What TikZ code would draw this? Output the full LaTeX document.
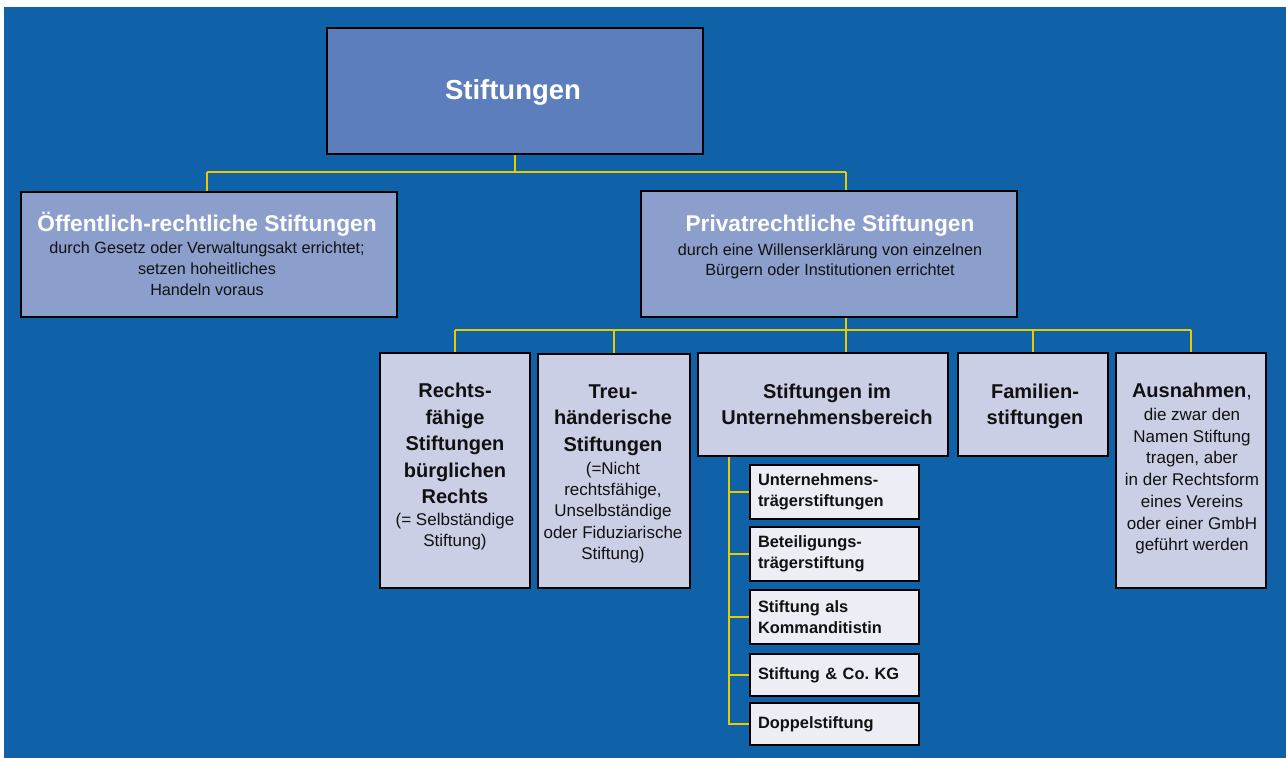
\documentclass[tikz,border=0pt]{standalone}
\usepackage{fontspec}
\setmainfont{Liberation Sans}
\definecolor{bg}{RGB}{15,98,168}
\definecolor{lvA}{RGB}{92,126,188}
\definecolor{lvB}{RGB}{140,159,204}
\definecolor{lvC}{RGB}{203,207,230}
\definecolor{lvD}{RGB}{237,237,246}
\definecolor{connc}{RGB}{232,204,0}
\definecolor{ink}{RGB}{17,17,17}
\newcommand\fsz[2]{\fontsize{#1}{#2}\selectfont}
\newcommand\mybox[6]{\node[box, fill=#2, minimum width=#5pt, minimum height=#6pt] (#1) at (#3,#4) {};}
\begin{document}
\begin{tikzpicture}[x=1pt,y=-1pt,
  box/.style={draw=black, line width=1.5pt, inner sep=0pt, outer sep=0pt, anchor=north west},
  sub/.style={draw=black, line width=1.5pt, fill=lvD, text width=153pt, inner xsep=8pt, inner ysep=0pt, outer sep=0pt, align=left, font=\fsz{16.4}{21}\bfseries, text=ink},
  txt/.style={inner sep=0pt, align=center, text=ink},
  cn/.style={draw=connc, line width=2pt}]
\fill[white] (0,0) rectangle (1286,758);
\fill[bg] (4,7) rectangle (1286,758);
\useasboundingbox (0,0) rectangle (1286,758);

% junction points
\coordinate (j1) at (515,172);
\coordinate (j2) at (846,330);
\coordinate (j3) at (729,456);

% boxes
\mybox{top}{lvA}{327}{28}{376}{126}
\mybox{oeff}{lvB}{21}{192}{376}{125}
\mybox{priv}{lvB}{641}{191}{376}{126}
\mybox{rf}{lvC}{380}{353}{150}{235}
\mybox{th}{lvC}{538}{354}{152}{234}
\mybox{ub}{lvC}{698}{353}{250}{103}
\mybox{fam}{lvC}{958}{353}{150}{103}
\mybox{aus}{lvC}{1116}{353}{150}{235}

% sub boxes
\node[sub, minimum height=54pt] (s1) at (834.5,492) {Unternehmens-\\trägerstiftungen};
\node[sub, minimum height=54pt] (s2) at (834.5,554) {Beteiligungs-\\trägerstiftung};
\node[sub, minimum height=54pt] (s3) at (834.5,617) {Stiftung als\\Kommanditistin};
\node[sub, minimum height=42pt] (s4) at (834.5,675) {Stiftung \& Co.\ KG};
\node[sub, minimum height=42pt] (s5) at (834.5,724) {Doppelstiftung};

% connectors
\draw[cn] (top.south -| j1) -- (j1);
\draw[cn] (j1 -| 207,0) -- (j1 -| priv.north) -- (j1 -| 846,0);
\draw[cn] (j1 -| 207,0) -- (oeff.north -| 207,0);
\draw[cn] (j1 -| 846,0) -- (priv.north -| 846,0);
\draw[cn] (priv.south -| j2) -- (j2);
\draw[cn] (j2 -| rf.north) -- (j2 -| aus.north);
\draw[cn] (j2 -| rf.north) -- (rf.north);
\draw[cn] (j2 -| th.north) -- (th.north);
\draw[cn] (j2) -- (ub.north -| j2);
\draw[cn] (j2 -| fam.north) -- (fam.north);
\draw[cn] (j2 -| aus.north) -- (aus.north);
\draw[cn] (j3) -- (s5.west -| j3) -- (s5.west);
\draw[cn] (s1.west -| j3) -- (s1.west);
\draw[cn] (s2.west -| j3) -- (s2.west);
\draw[cn] (s3.west -| j3) -- (s3.west);
\draw[cn] (s4.west -| j3) -- (s4.west);

% redraw box borders over connector ends
\foreach \n in {top,oeff,priv,rf,th,ub,fam,aus,s1,s2,s3,s4,s5}
  \draw[line width=1.5pt] (\n.north west) rectangle (\n.south east);

% texts
\node[txt, anchor=base, font=\fsz{27.5}{32}\bfseries, text=white] (t0) at (513,99) {Stiftungen};
\node[txt, anchor=base, font=\fsz{22.7}{27}\bfseries, text=white] (t1) at (207,231) {Öffentlich-rechtliche Stiftungen};
\node[txt, anchor=north, font=\fsz{16.2}{21}] (t1s) at (207,242) {durch Gesetz oder Verwaltungsakt errichtet;\\setzen hoheitliches\\Handeln voraus};
\node[txt, anchor=base, font=\fsz{22.7}{27}\bfseries, text=white] (t2) at (830,231) {Privatrechtliche Stiftungen};
\node[txt, anchor=north, font=\fsz{16.2}{19.5}] (t2s) at (830,244) {durch eine Willenserklärung von einzelnen\\Bürgern oder Institutionen errichtet};

\node[txt, anchor=north, font=\fsz{20}{26.5}\bfseries] (t3) at (455,383) {Rechts-\\fähige\\Stiftungen\\bürglichen\\Rechts};
\node[txt, anchor=north, font=\fsz{17}{21}] (t3s) at (455,513) {(= Selbständige\\Stiftung)};
\node[txt, anchor=north, font=\fsz{20}{26.5}\bfseries] (t4) at (613,384.5) {Treu-\\händerische\\Stiftungen};
\node[txt, anchor=north, font=\fsz{17}{21.2}] (t4s) at (613,462) {(=Nicht\\rechtsfähige,\\Unselbständige\\oder Fiduziarische\\Stiftung)};
\node[txt, anchor=north, font=\fsz{20}{26}\bfseries] (t5) at (827,384) {Stiftungen im\\Unternehmensbereich};
\node[txt, anchor=north, font=\fsz{20}{26}\bfseries] (t6) at (1035,384) {Familien-\\stiftungen};
\node[txt, anchor=base, font=\fsz{20}{26}\bfseries] (t7) at (1192,397) {Ausnahmen\mdseries,};
\node[txt, anchor=north, font=\fsz{17}{21.7}] (t7s) at (1192,408) {die zwar den\\Namen Stiftung\\tragen, aber\\in der Rechtsform\\eines Vereins\\oder einer GmbH\\geführt werden};
\end{tikzpicture}
\end{document}
